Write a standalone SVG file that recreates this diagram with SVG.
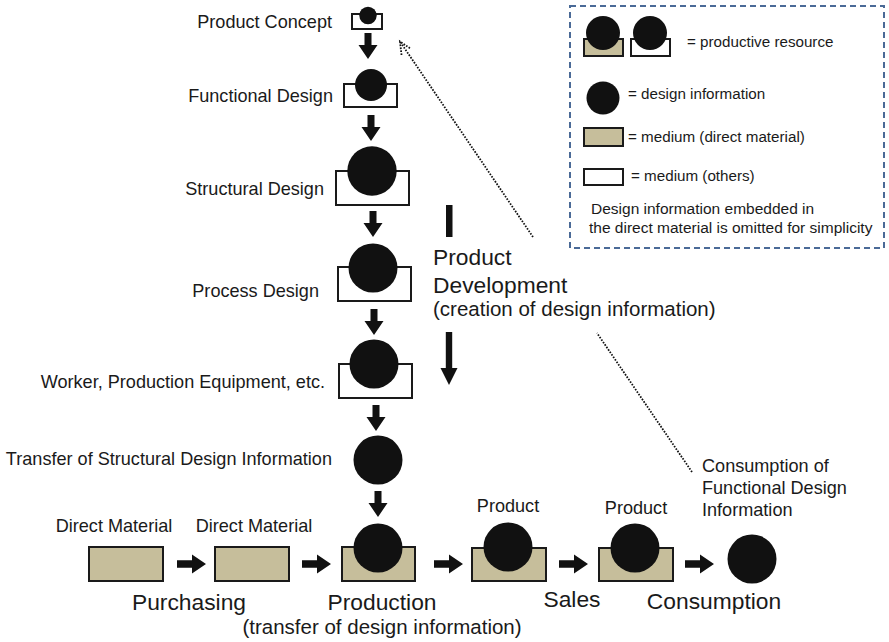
<svg xmlns="http://www.w3.org/2000/svg" width="889" height="642" viewBox="0 0 889 642">
  <defs>
    <style>
      text { font-family: "Liberation Sans", Arial, sans-serif; fill: #1a1a1a; }
      .lbl { font-size: 18.1px; }
      .big { font-size: 22.8px; }
      .sub { font-size: 20.5px; }
      .leg { font-size: 15.2px; }
      .note { font-size: 15.5px; }
      .info { fill: #111; }
      .mat { fill: #c6be9b; stroke: #1a1a1a; stroke-width: 2; }
      .oth { fill: #fff; stroke: #1a1a1a; stroke-width: 2; }
      .arr { fill: #111; }
      .dot { fill: none; stroke: #111; stroke-width: 1.8; stroke-dasharray: 1.6 1.4; }
    </style>
    <!-- downward block arrow, tip at (0,26) -->
    <path id="down" d="M-3.5,0 H3.5 V12 H9.5 L0,26 L-9.5,12 H-3.5 Z"/>
    <!-- rightward block arrow, tip at (29,0) -->
    <path id="right" d="M0,-3.8 H15 V-9.5 L29,0 L15,9.5 V3.8 H0 Z"/>
  </defs>

  <!-- legend -->
  <g id="legend">
    <rect x="570" y="6" width="314" height="242" fill="#fff" stroke="#4a6a97" stroke-width="2" stroke-dasharray="6 4"/>
    <rect class="mat" x="584" y="39" width="39" height="17"/>
    <circle class="info" cx="603" cy="33" r="17"/>
    <rect class="oth" x="631" y="39" width="39" height="17"/>
    <circle class="info" cx="650" cy="33" r="17"/>
    <text class="leg" x="687" y="47">= productive resource</text>
    <circle class="info" cx="603" cy="98" r="16.5"/>
    <text class="leg" x="628" y="99">= design information</text>
    <rect class="mat" x="584" y="128" width="39" height="18"/>
    <text class="leg" x="628" y="142">= medium (direct material)</text>
    <rect class="oth" x="584" y="169" width="39" height="16"/>
    <text class="leg" x="631" y="181">= medium (others)</text>
    <text class="note" x="591" y="214">Design information embedded in</text>
    <text class="note" x="589" y="233">the direct material is omitted for simplicity</text>
  </g>

  <!-- product development column -->
  <g id="product-concept">
    <rect class="oth" x="352" y="14" width="30" height="15"/>
    <circle class="info" cx="368" cy="15.5" r="8.7"/>
    <text class="lbl" x="332" y="28" text-anchor="end">Product Concept</text>
  </g>
  <g id="functional-design">
    <rect class="oth" x="344" y="84" width="53" height="23"/>
    <circle class="info" cx="371" cy="85" r="16"/>
    <text class="lbl" x="333" y="102" text-anchor="end">Functional Design</text>
  </g>
  <g id="structural-design">
    <rect class="oth" x="336" y="171" width="73" height="34"/>
    <circle class="info" cx="372" cy="171" r="24.7"/>
    <text class="lbl" x="324" y="195" text-anchor="end">Structural Design</text>
  </g>
  <g id="process-design">
    <rect class="oth" x="338" y="267" width="73" height="34"/>
    <circle class="info" cx="373" cy="268" r="24.5"/>
    <text class="lbl" x="319" y="297" text-anchor="end">Process Design</text>
  </g>
  <g id="worker">
    <rect class="oth" x="339" y="364" width="73" height="34"/>
    <circle class="info" cx="374" cy="364" r="24.5"/>
    <text class="lbl" x="325" y="388" text-anchor="end">Worker, Production Equipment, etc.</text>
  </g>
  <g id="transfer">
    <circle class="info" cx="378" cy="460" r="24.5"/>
    <text class="lbl" x="332" y="465" text-anchor="end">Transfer of Structural Design Information</text>
  </g>

  <!-- value chain row -->
  <g id="direct-material-1">
    <rect class="mat" x="89" y="547" width="74" height="34"/>
    <text class="lbl" x="114" y="532" text-anchor="middle">Direct Material</text>
  </g>
  <g id="direct-material-2">
    <rect class="mat" x="215" y="547" width="74" height="34"/>
    <text class="lbl" x="254" y="532" text-anchor="middle">Direct Material</text>
  </g>
  <g id="production">
    <rect class="mat" x="342" y="547" width="73" height="34"/>
    <circle class="info" cx="378" cy="548" r="24.5"/>
  </g>
  <g id="product-1">
    <rect class="mat" x="472" y="548" width="74" height="33"/>
    <circle class="info" cx="508" cy="547" r="24.5"/>
    <text class="lbl" x="508" y="512" text-anchor="middle">Product</text>
  </g>
  <g id="product-2">
    <rect class="mat" x="599" y="548" width="74" height="33"/>
    <circle class="info" cx="635" cy="548" r="24.5"/>
    <text class="lbl" x="636" y="514" text-anchor="middle">Product</text>
  </g>
  <g id="consumed">
    <circle class="info" cx="752" cy="559" r="24.5"/>
  </g>

  <!-- stage labels -->
  <g id="stage-labels">
    <text class="big" x="189" y="610" text-anchor="middle">Purchasing</text>
    <text class="big" x="382" y="610" text-anchor="middle">Production</text>
    <text class="sub" x="382" y="634" text-anchor="middle">(transfer of design information)</text>
    <text class="big" x="572" y="607" text-anchor="middle">Sales</text>
    <text class="big" x="714" y="609" text-anchor="middle">Consumption</text>
    <text class="big" x="433" y="265">Product</text>
    <text class="big" x="433" y="293">Development</text>
    <text class="sub" x="433" y="316">(creation of design information)</text>
    <text class="lbl" x="702" y="472">Consumption of</text>
    <text class="lbl" x="702" y="494">Functional Design</text>
    <text class="lbl" x="702" y="516">Information</text>
  </g>

  <!-- connectors -->
  <g id="connectors">
    <use href="#down" class="arr" x="368" y="33"/>
    <use href="#down" class="arr" x="371" y="115"/>
    <use href="#down" class="arr" x="373" y="211"/>
    <use href="#down" class="arr" x="374" y="309"/>
    <use href="#down" class="arr" x="376" y="405"/>
    <use href="#down" class="arr" x="378" y="491"/>

    <use href="#right" class="arr" x="177" y="564"/>
    <use href="#right" class="arr" x="302" y="564"/>
    <use href="#right" class="arr" x="434" y="564"/>
    <use href="#right" class="arr" x="559" y="564"/>
    <use href="#right" class="arr" x="685" y="564"/>

    <!-- product development flow bar -->
    <rect class="arr" x="446" y="205" width="6.5" height="32"/>
    <path class="arr" d="M445.8,332 H452.2 V368 H457.5 L449,385 L440.5,368 H445.8 Z"/>

    <!-- dotted link from consumption back to functional design -->
    <line class="dot" x1="692" y1="472" x2="597" y2="333"/>
    <line class="dot" x1="533" y1="237" x2="401" y2="43"/>
    <polyline class="dot" points="401.5,55 400,41.5 411,49"/>
  </g>
</svg>
